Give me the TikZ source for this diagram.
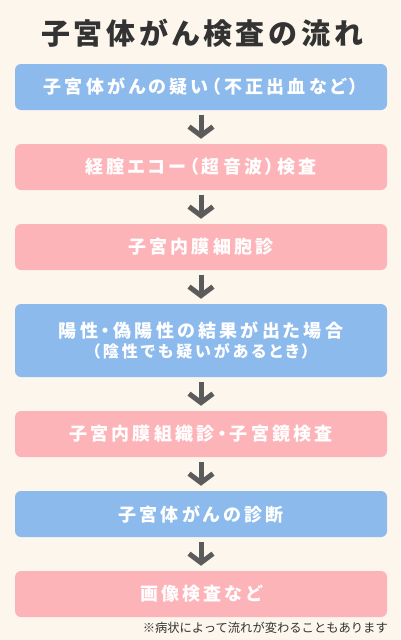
\documentclass[tikz,border=0pt]{standalone}
\usepackage{fontspec}
\setmainfont{Noto Sans CJK JP}
\newfontfamily\boxfont[LetterSpace=18,RawFeature=+palt]{Noto Sans CJK JP}
\newfontfamily\titlefont[LetterSpace=13,RawFeature=+palt]{Noto Sans CJK JP}
\usetikzlibrary{arrows.meta}
\definecolor{bgcream}{HTML}{FDF6EC}
\definecolor{bluebox}{HTML}{8CBAEC}
\definecolor{pinkbox}{HTML}{FDB4B9}
\definecolor{arrowgray}{HTML}{5B5B5B}
\definecolor{titlegray}{HTML}{333333}
\begin{document}
\begin{tikzpicture}[x=1pt,y=-1pt,
  stepbox/.style={rounded corners=6pt, minimum width=372pt, minimum height=46pt,
    inner sep=0pt, text=white, align=center,
    font=\boxfont\bfseries\fontsize{18}{22}\selectfont},
  bluestep/.style={stepbox, fill=bluebox},
  pinkstep/.style={stepbox, fill=pinkbox},
  flow/.style={draw=arrowgray, line width=5pt,
    -{Straight Barb[length=9pt,width=24pt]},
    shorten <=5pt, shorten >=5pt}]
\fill[bgcream] (0,0) rectangle (400,640);
\useasboundingbox (0,0) rectangle (400,640);
\node[font=\titlefont\bfseries\fontsize{29}{33}\selectfont, text=titlegray] (title) at (202,33) {子宮体がん検査の流れ};
\node[bluestep] (b1) at (201,87) {子宮体がんの疑い（不正出血など）};
\node[pinkstep] (b2) at (201,167) {経腟エコー（超音波）検査};
\node[pinkstep] (b3) at (201,247) {子宮内膜細胞診};
\node[bluestep, minimum height=73pt] (b4) at (201,340.5) {陽性・偽陽性の結果が出た場合\\[-2pt]{\fontsize{16}{19}\selectfont（陰性でも疑いがあるとき）}};
\node[pinkstep] (b5) at (201,434) {子宮内膜組織診・子宮鏡検査};
\node[bluestep] (b6) at (201,514) {子宮体がんの診断};
\node[pinkstep] (b7) at (201,594) {画像検査など};
\node[anchor=east, font=\fontsize{12.3}{14}\selectfont, text=titlegray, inner sep=0pt] (note) at (388,628) {※病状によって流れが変わることもあります};
\draw[flow] (b1) -- (b2);
\draw[flow] (b2) -- (b3);
\draw[flow] (b3) -- (b4);
\draw[flow] (b4) -- (b5);
\draw[flow] (b5) -- (b6);
\draw[flow] (b6) -- (b7);
\end{tikzpicture}
\end{document}
